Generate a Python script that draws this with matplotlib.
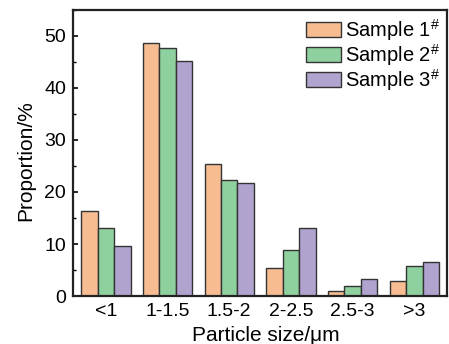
import numpy as np
import matplotlib
matplotlib.use('Agg')
import matplotlib.pyplot as plt
from matplotlib.ticker import MultipleLocator

plt.rcParams['font.family'] = ['Liberation Sans', 'DejaVu Sans']
plt.rcParams['mathtext.fontset'] = 'custom'
plt.rcParams['mathtext.rm'] = 'Liberation Sans'
plt.rcParams['mathtext.it'] = 'Liberation Sans'

categories = ['<1', '1-1.5', '1.5-2', '2-2.5', '2.5-3', '>3']
sample1 = [16.3, 48.7, 25.4, 5.3, 1.0, 2.8]
sample2 = [13.0, 47.6, 22.3, 8.8, 1.9, 5.8]
sample3 = [9.7, 45.2, 21.7, 13.1, 3.2, 6.6]
labels = ['Sample 1$^{\\#}$', 'Sample 2$^{\\#}$', 'Sample 3$^{\\#}$']
colors = ['#F7BC91', '#8FD19E', '#B0A4CF']

fig = plt.figure(figsize=(4.49, 3.44), dpi=100)
ax = fig.add_axes([0.163, 0.1395, 0.8325, 0.8315])

x = np.arange(len(categories))
w = 0.267
for i, vals in enumerate([sample1, sample2, sample3]):
    ax.bar(x + (i - 1) * w, vals, w, color=colors[i], edgecolor='#333333',
           linewidth=1.0, label=labels[i])

ax.set_xlim(-0.53, 5.53)
ax.set_ylim(0, 55)
ax.set_xticks(x)
ax.set_xticklabels(categories)
ax.tick_params(axis='x', length=0, labelsize=14, pad=5)
ax.yaxis.set_major_locator(MultipleLocator(10))
ax.yaxis.set_minor_locator(MultipleLocator(5))
ax.tick_params(axis='y', which='major', direction='in', length=3.5, width=1.2,
               labelsize=14, pad=5)
ax.tick_params(axis='y', which='minor', direction='in', length=2.5, width=1.0)
for s in ax.spines.values():
    s.set_linewidth(1.6)
    s.set_color('#222222')

ax.set_xlabel('Particle size/μm', fontsize=15)
ax.set_ylabel('Proportion/%', fontsize=15)
ax.xaxis.set_label_coords(0.516, -0.106)
ax.yaxis.set_label_coords(-0.102, 0.472)

ax.legend(loc='upper right', frameon=False, fontsize=14.5, handlelength=1.75,
          handleheight=0.8, handletextpad=0.2, labelspacing=-0.05,
          borderaxespad=0.15, borderpad=0.2)

fig.savefig('out.png', dpi=100)
